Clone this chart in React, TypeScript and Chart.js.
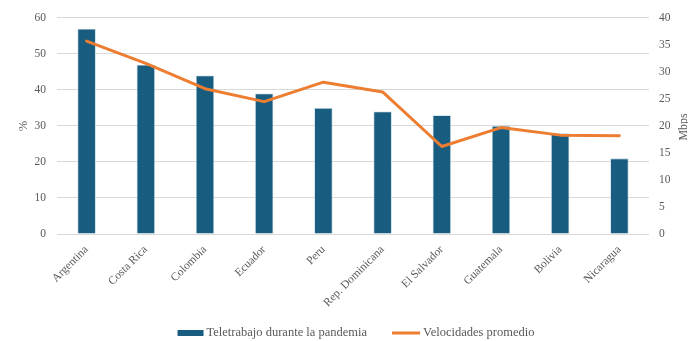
import React, { useEffect, useRef } from 'react';
import { Chart, registerables } from 'chart.js';

Chart.register(...registerables);

const countries = [
  'Argentina',
  'Costa Rica',
  'Colombia',
  'Ecuador',
  'Peru',
  'Rep. Dominicana',
  'El Salvador',
  'Guatemala',
  'Bolivia',
  'Nicaragua',
];
// Share of people teleworking during the pandemic (%)
const teletrabajo = [57, 47, 44, 39, 35, 34, 33, 30, 28, 21];
// Average connection speed (Mbps)
const velocidades = [35.7, 31.6, 26.9, 24.5, 28.1, 26.3, 16.2, 19.7, 18.3, 18.2];

const barLabel = 'Teletrabajo durante la pandemia';
const lineLabel = 'Velocidades promedio';
const leftTitle = '%';
const rightTitle = 'Mbps';

const BAR_COLOR = '#185d80';
const LINE_COLOR = '#ed7d31';
const TEXT_COLOR = '#595959';
const GRID_COLOR = '#d9d9d9';
const FONT_FAMILY = '"Liberation Serif", "Times New Roman", serif';

// Vertical title for the right-hand (Mbps) axis, reading bottom to top.
const rightTitlePlugin = {
  id: 'rightTitle',
  afterDraw(chart: any) {
    const { ctx, chartArea } = chart;
    ctx.save();
    ctx.translate(684, (chartArea.top + chartArea.bottom) / 2 + 1);
    ctx.rotate(-Math.PI / 2);
    ctx.textAlign = 'center';
    ctx.textBaseline = 'middle';
    ctx.font = `12px ${FONT_FAMILY}`;
    ctx.fillStyle = TEXT_COLOR;
    ctx.fillText(rightTitle, 0, 0);
    ctx.restore();
  },
};

// Legend row under the axis labels: a flat box for the bars, a stroke for the line.
const legendPlugin = {
  id: 'bottomLegend',
  afterDraw(chart: any) {
    const { ctx } = chart;
    const items = [
      { text: barLabel, color: BAR_COLOR, w: 26, h: 6 },
      { text: lineLabel, color: LINE_COLOR, w: 28, h: 3 },
    ];
    const gapText = 3;
    const gapItem = 25;
    const y = 333;
    ctx.save();
    ctx.font = `12.5px ${FONT_FAMILY}`;
    ctx.textBaseline = 'middle';
    ctx.textAlign = 'left';
    const widths = items.map((it) => it.w + gapText + ctx.measureText(it.text).width);
    const total = widths.reduce((a, b) => a + b, 0) + gapItem * (items.length - 1);
    let x = 356 - total / 2;
    items.forEach((it, i) => {
      ctx.fillStyle = it.color;
      ctx.fillRect(x, y - it.h / 2, it.w, it.h);
      ctx.fillStyle = TEXT_COLOR;
      ctx.fillText(it.text, x + it.w + gapText, y);
      x += widths[i] + gapItem;
    });
    ctx.restore();
  },
};

export default function App() {
  const canvasRef = useRef<HTMLCanvasElement | null>(null);

  useEffect(() => {
    if (!canvasRef.current) return;
    const tickFont = { family: FONT_FAMILY, size: 11.5 };
    const chart = new Chart(canvasRef.current, {
      type: 'bar',
      data: {
        labels: countries,
        datasets: [
          {
            type: 'line',
            label: lineLabel,
            data: velocidades,
            yAxisID: 'y1',
            borderColor: LINE_COLOR,
            backgroundColor: LINE_COLOR,
            borderWidth: 3,
            pointRadius: 0,
            tension: 0,
            borderJoinStyle: 'round',
            borderCapStyle: 'round',
            order: 0,
          } as any,
          {
            type: 'bar',
            label: barLabel,
            data: teletrabajo,
            yAxisID: 'y',
            backgroundColor: BAR_COLOR,
            borderColor: '#b9d3e3',
            borderWidth: 0.8,
            barPercentage: 0.31,
            categoryPercentage: 1,
            order: 1,
          } as any,
        ],
      },
      options: {
        responsive: false,
        animation: false,
        devicePixelRatio: 1,
        layout: { padding: { top: 8, left: 0, right: 0, bottom: 32 } },
        plugins: {
          tooltip: { enabled: false },
          legend: { display: false },
        },
        scales: {
          x: {
            offset: true,
            grid: { display: false, drawTicks: false },
            border: { display: false },
            ticks: {
              minRotation: 45,
              maxRotation: 45,
              autoSkip: false,
              padding: 9,
              font: tickFont,
              color: TEXT_COLOR,
            },
            afterFit(scale: any) {
              scale.height = 75;
            },
          },
          y: {
            position: 'left',
            min: 0,
            max: 60,
            ticks: { stepSize: 10, padding: 11, font: tickFont, color: TEXT_COLOR },
            grid: { color: GRID_COLOR, lineWidth: 1, drawTicks: false },
            border: { display: false },
            title: {
              display: true,
              text: leftTitle,
              font: { family: FONT_FAMILY, size: 12.5 },
              color: TEXT_COLOR,
              padding: { top: 16, bottom: 0 },
            },
            afterFit(scale: any) {
              scale.width = 57;
            },
          },
          y1: {
            position: 'right',
            min: 0,
            max: 40,
            ticks: { stepSize: 5, padding: 10, font: tickFont, color: TEXT_COLOR },
            grid: { display: false, drawTicks: false },
            border: { display: false },
            afterFit(scale: any) {
              scale.width = 39;
            },
          },
        },
      } as any,
      plugins: [rightTitlePlugin, legendPlugin],
    });
    return () => chart.destroy();
  }, []);

  return (
    <div style={{ position: 'fixed', left: 0, top: 0, width: 688, height: 341, background: '#fff' }}>
      <canvas ref={canvasRef} width={688} height={341} />
    </div>
  );
}
